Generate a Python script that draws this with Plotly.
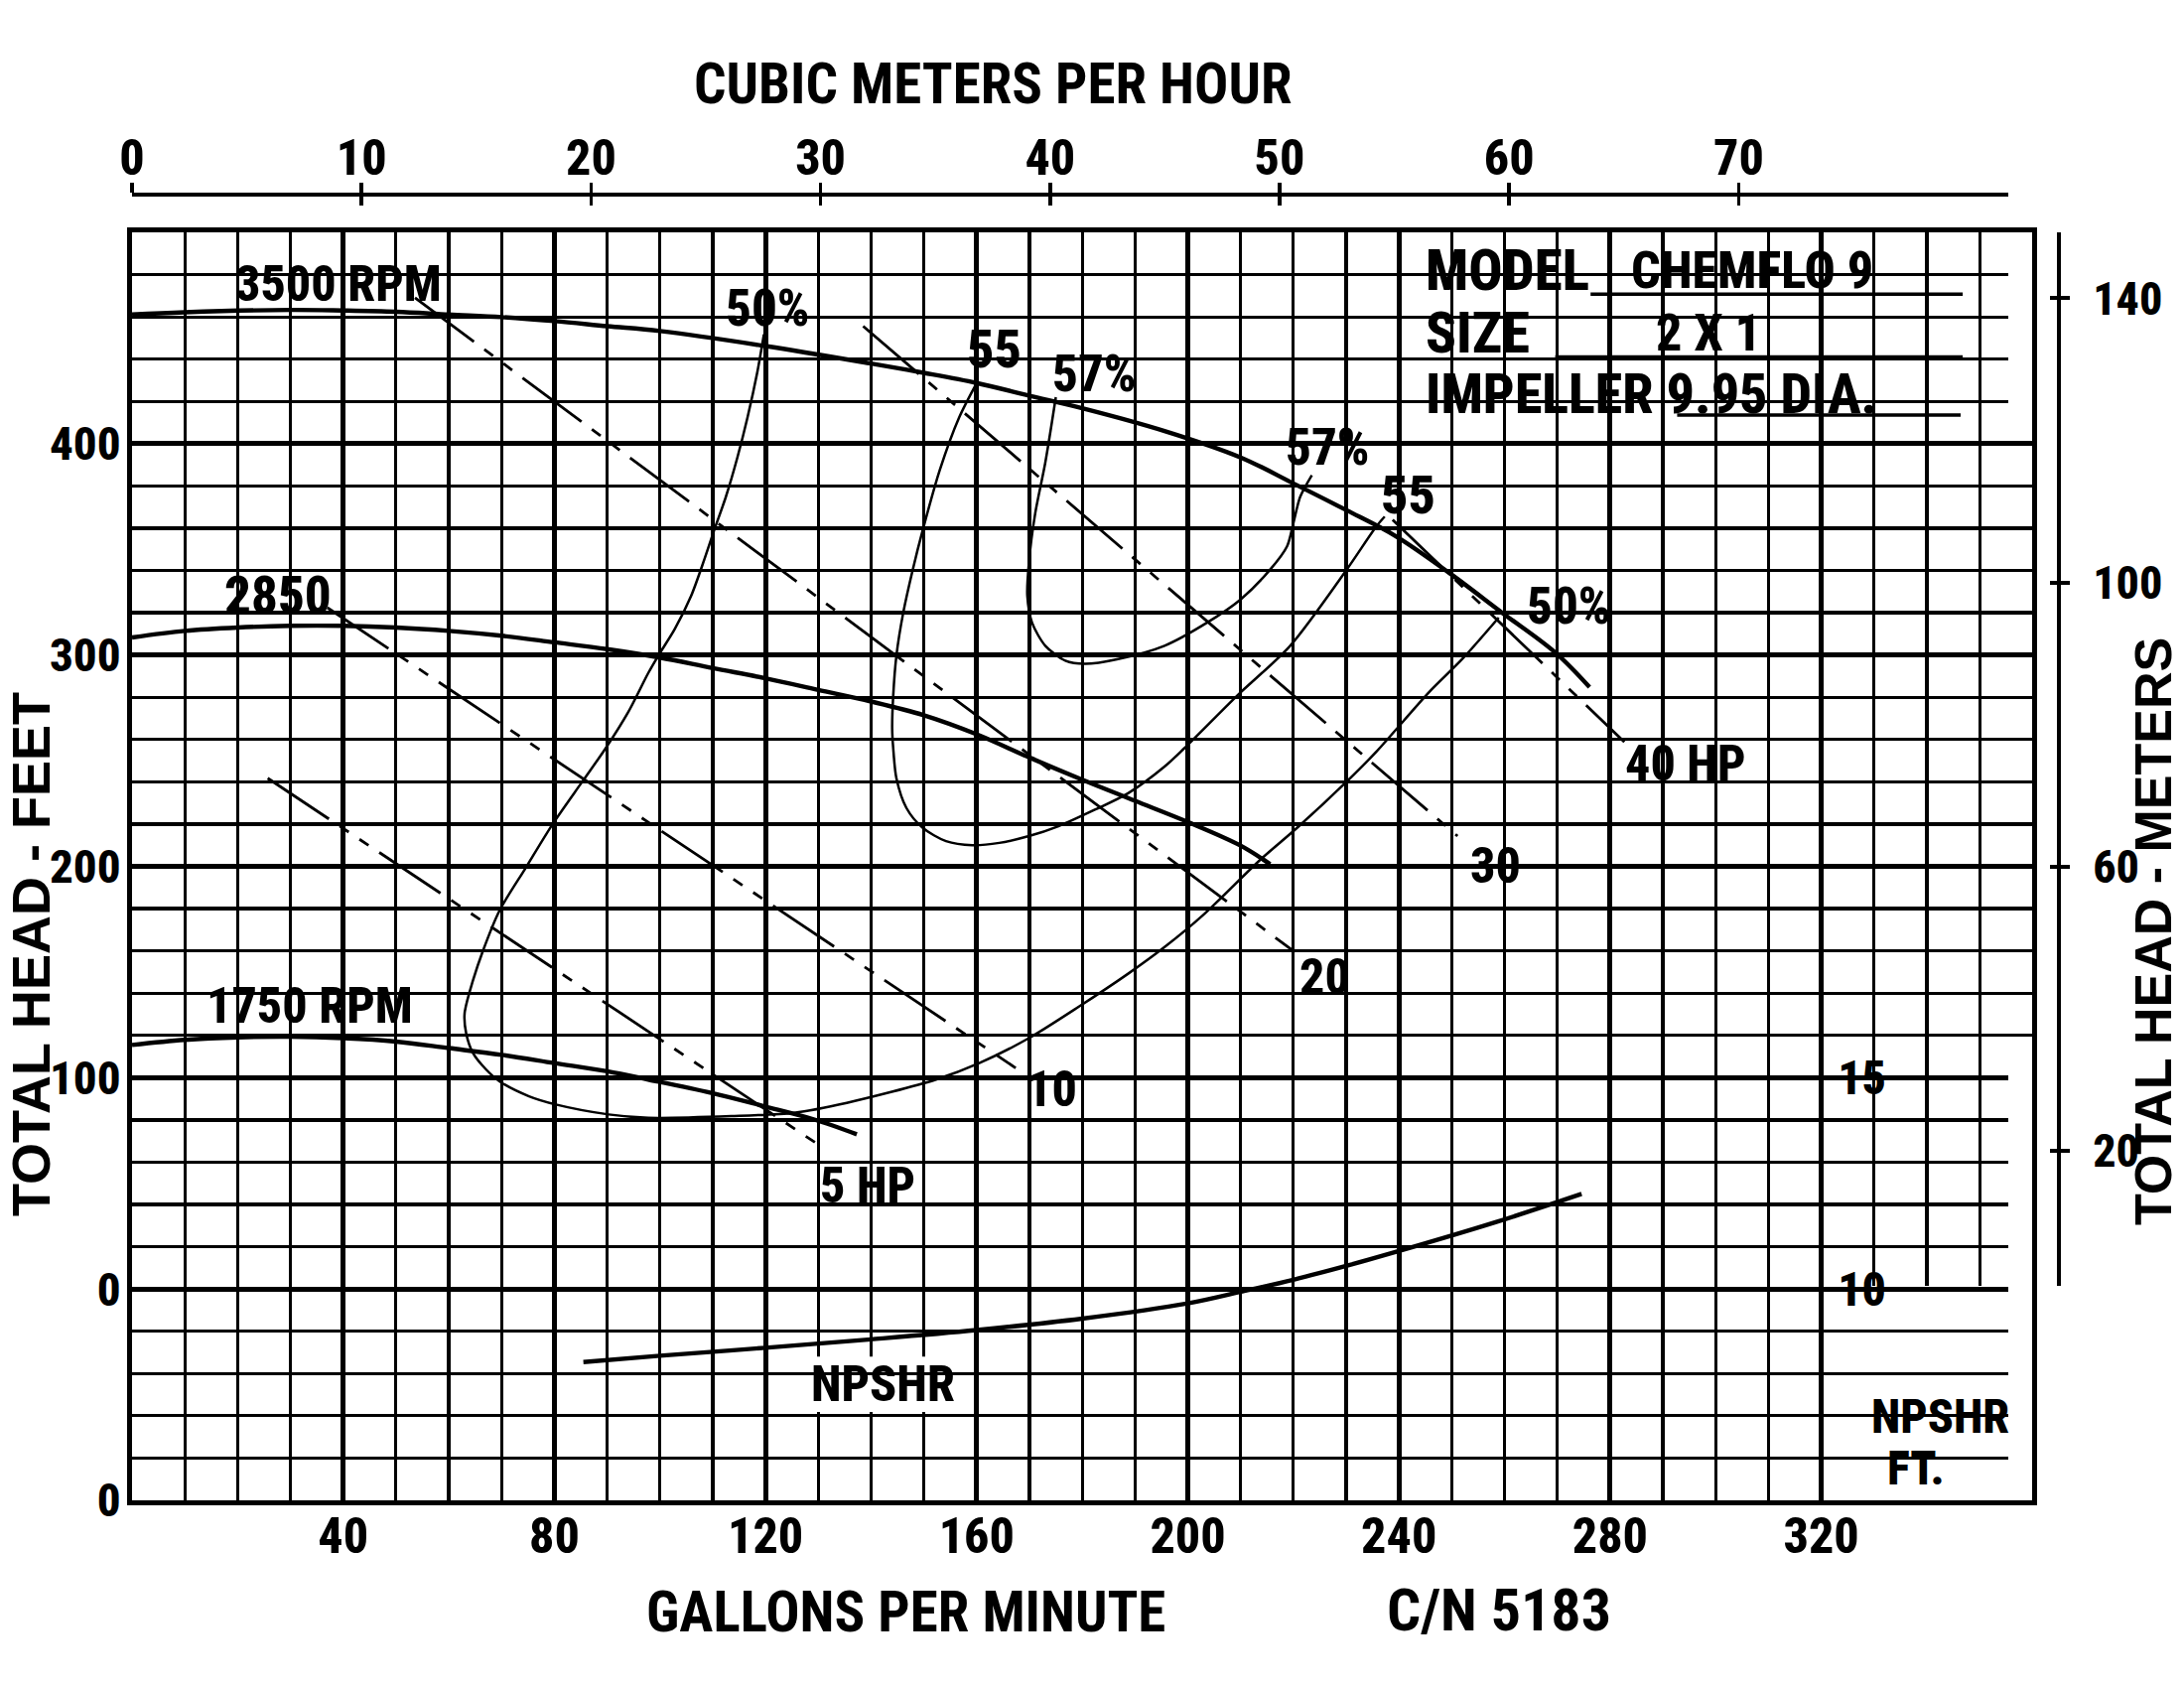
import plotly.graph_objects as go

# ---------------- data ----------------
gpm_ticks = [40, 80, 120, 160, 200, 240, 280, 320]
head_tick_vals = [-100, 0, 100, 200, 300, 400]
head_tick_text = ["0", "0", "100", "200", "300", "400"]
cmh_ticks = [0, 10, 20, 30, 40, 50, 60, 70]
meter_ticks = [20, 60, 100, 140]
npshr_ticks = [10, 15]

# head-capacity curves (GPM, feet)
rpm3500_gpm = [0, 10, 30, 40, 50, 60, 70, 80, 90, 100, 120, 140, 150, 160, 170, 180,
               195.6, 210, 220, 230, 239.5, 249.5, 259.5, 269.6, 276.1]
rpm3500_head = [461.1, 462.2, 463.3, 463.0, 462.4, 461.1, 459.9, 458.0, 455.6, 453.3, 446.2, 437.9,
                433.5, 428.7, 422.7, 416.8, 406.0, 393.5, 381.2, 368.6, 356.1, 338.9, 320.1, 301.2, 284.8]

rpm2850_gpm = [0, 10, 20, 30, 40, 50, 60, 70, 80, 90, 100, 110, 120, 130, 140, 150,
               160, 170, 180, 190, 200, 210, 215.6]
rpm2850_head = [308.3, 311.4, 313.0, 313.8, 313.8, 313.0, 311.4, 309.1, 306.0, 302.8, 298.8, 293.8,
                289.0, 283.5, 278.0, 271.5, 262.5, 251.5, 241.0, 231.0, 221.0, 209.8, 201.0]

rpm1750_gpm = [0, 10, 20, 30, 40, 50, 60, 70, 80, 90, 97.8, 109.7, 119.7, 129.1, 137.3]
rpm1750_head = [115.5, 117.9, 119.1, 119.4, 118.7, 117.1, 114.0, 110.8, 106.9, 103.0, 99.1, 92.8,
                86.5, 80.3, 73.2]

# iso-efficiency curves (GPM, feet)
eff50_gpm = [119.7, 118.5, 116.6, 114.7, 112.5, 110.3, 108.4, 105.9, 102.8, 99.7, 97.8, 94.0, 89.7,
             85.3, 79.6, 74.6, 69.6, 66.5, 64.6, 63.0, 63.3, 64.6, 67.1, 69.6, 75.2, 80.3, 90.3, 97.8,
             113.5, 125.4, 135.4, 152.3, 160.5, 169.9, 179.3, 188.7, 195.6, 203.1, 213.8, 220.7,
             230.1, 235.7, 245.7, 252.0, 258.9]
eff50_head = [451.7, 434.5, 412.5, 393.7, 374.9, 359.2, 345.1, 327.9, 312.2, 299.7, 291.5, 273.0,
              255.8, 240.1, 219.7, 199.4, 179.0, 160.2, 146.1, 130.4, 121.0, 111.6, 103.8, 98.3,
              91.2, 87.3, 82.6, 81.0, 81.8, 83.4, 88.1, 99.1, 106.9, 118.7, 133.5, 149.2, 161.8,
              177.4, 203.3, 218.2, 240.1, 254.2, 282.4, 298.1, 317.7]

eff55_gpm = [159.9, 156.7, 153.0, 149.8, 147.9, 146.1, 144.8, 144.2, 144.0, 144.2, 144.8, 146.7,
             149.8, 154.2, 159.2, 164.3, 169.9, 175.5, 182.4, 188.7, 195.6, 199.3, 209.4, 219.4,
             230.1, 235.7, 237.3]
eff55_head = [428.2, 412.5, 387.4, 359.2, 340.4, 320.1, 299.7, 280.9, 265.0, 255.8, 241.7, 227.6,
              218.2, 211.9, 210.0, 211.1, 214.3, 219.0, 226.8, 234.6, 247.2, 255.8, 280.9, 304.4,
              340.4, 360.8, 365.5]

eff57_gpm = [175.0, 173.0, 171.1, 169.9, 169.6, 170.5, 173.0, 176.8, 180.5, 186.8, 195.6, 203.7,
             210.0, 215.6, 218.8, 220.0, 221.3, 223.5]
eff57_head = [422.0, 391.0, 367.1, 343.6, 327.9, 315.3, 304.4, 297.3, 295.8, 298.1, 304.4, 315.4,
              326.3, 340.4, 351.4, 362.4, 374.9, 385.1]

# horsepower lines: start / end (GPM, feet)
hp_names = ["5 HP", "10", "20", "30", "40 HP"]
hp_gpm = [[25.7, 131.3], [37.0, 167.4], [53.6, 220.3], [138.5, 251.1], [238.8, 282.7]]
hp_head = [[241.7, 66.2], [322.4, 104.6], [469.0, 159.4], [455.6, 214.3], [364.0, 258.9]]
hp_label_gpm = [139.3, 174.3, 226.0, 258.3, 294.3]
hp_label_head = [49.0, 94.4, 147.6, 200.2, 248.8]

# NPSHR curve (GPM, NPSHR feet)
npshr_gpm = [85.5, 100, 120, 140, 160, 180, 200, 210.9, 220, 230.7, 239.5, 258.3, 274.6]
npshr_ft = [8.27, 8.42, 8.61, 8.81, 9.03, 9.30, 9.66, 9.96, 10.22, 10.57, 10.88, 11.58, 12.25]

# curve labels
rpm_labels = ["3500 RPM", "2850", "1750 RPM"]
rpm_label_gpm = [39.2, 27.7, 33.7]
rpm_label_head = [475.6, 328.0, 134.2]

eff_labels = ["50%", "55", "57%", "57%", "55", "50%"]
eff_label_gpm = [120.4, 163.3, 182.4, 226.6, 241.7, 272.3]
eff_label_head = [464.2, 444.7, 432.9, 398.4, 375.7, 323.2]

# ---------------- styling / geometry ----------------
NARROW = ("Liberation Sans Narrow, Noto Sans Condensed, Noto Sans SemiCondensed, Roboto Condensed, "
          "DejaVu Sans Condensed, Liberation Sans, sans-serif")
WIDE = "Liberation Sans, Arial, sans-serif"
WEIGHT = 800
NARROW_FACTOR = 0.82
W, H = 2200, 1700
PL, PR_GRID, PT_GRID, PB = 133, 2047.3, 234, 1511     # grid box in pixels
PAPER_R, PAPER_T = 2074, 196                         # meter axis x, m3/h axis y
TOP_AXIS_END = 2022.5
PX_PER_CMH = 23.12
PX_PER_M = 7.155
M_ZERO_Y = 1302.1
M_LINE_BOTTOM = 1295
GPM_MAX, HEAD_MIN, HEAD_MAX = 360, -100, 500

paper_w = PAPER_R - PL
paper_h = PB - PAPER_T
XD = (PR_GRID - PL) / paper_w
YD = (PB - PT_GRID) / paper_h
XD2 = (TOP_AXIS_END - PL) / paper_w
cmh_max = (TOP_AXIS_END - PL) / PX_PER_CMH
m_dom_lo = (PB - M_LINE_BOTTOM) / paper_h
m_lo = (M_ZERO_Y - M_LINE_BOTTOM) / PX_PER_M
m_hi = (M_ZERO_Y - PT_GRID) / PX_PER_M
npshr_pos = (320 / GPM_MAX) * XD
PXG = (PR_GRID - PL) / GPM_MAX              # px per gpm
PXH = (PB - PT_GRID) / (HEAD_MAX - HEAD_MIN)  # px per foot
THIN, THICK = 3.2, 5.0

fig = go.Figure()


def add_line(x, y, width, dash=None, yaxis="y", shape="spline", smoothing=1.0):
    fig.add_trace(go.Scatter(
        x=x, y=y, mode="lines", yaxis=yaxis, hoverinfo="skip", showlegend=False,
        line=dict(color="black", width=width, dash=dash, shape=shape, smoothing=smoothing)))


add_line(rpm3500_gpm, rpm3500_head, 4.4)
add_line(rpm2850_gpm, rpm2850_head, 4.4)
add_line(rpm1750_gpm, rpm1750_head, 4.4)
add_line(eff50_gpm, eff50_head, 2.5, smoothing=0.8)
add_line(eff55_gpm, eff55_head, 2.5, smoothing=0.8)
add_line(eff57_gpm, eff57_head, 2.5, smoothing=0.8)
PHANTOM = "74px,13px,11px,13px,11px,13px"
for xs, ys in zip(hp_gpm, hp_head):
    add_line(xs, ys, 2.8, dash=PHANTOM, shape="linear")
add_line(npshr_gpm, npshr_ft, 4.4, yaxis="y3")

# dummy traces so the free axes get their subplots
fig.add_trace(go.Scatter(x=[None], y=[None], xaxis="x2", yaxis="y", showlegend=False, hoverinfo="skip"))
fig.add_trace(go.Scatter(x=[None], y=[None], xaxis="x3", yaxis="y", showlegend=False, hoverinfo="skip"))
fig.add_trace(go.Scatter(x=[None], y=[None], xaxis="x", yaxis="y2", showlegend=False, hoverinfo="skip"))
fig.add_trace(go.Scatter(x=[None], y=[None], xaxis="x", yaxis="y4", showlegend=False, hoverinfo="skip"))


def tf(size):
    return dict(family=NARROW, size=size, color="black", weight=WEIGHT)


fig.update_layout(
    width=W, height=H, autosize=False,
    margin=dict(l=PL, r=W - PAPER_R, t=PAPER_T, b=H - PB, pad=0),
    paper_bgcolor="white", plot_bgcolor="rgba(0,0,0,0)",
    showlegend=False,
    xaxis=dict(domain=[0, XD], range=[0, GPM_MAX], tickmode="array", tickvals=gpm_ticks,
               ticktext=[str(v) for v in gpm_ticks], ticks="", tickfont=tf(50),
               ticklabelstandoff=-12,
               showgrid=True, gridcolor="black", gridwidth=THICK, zeroline=False,
               minor=dict(dtick=10, tick0=0, showgrid=True, gridcolor="black", gridwidth=THIN, ticks=""),
               showline=True, linecolor="black", linewidth=5, mirror=True, fixedrange=True),
    yaxis=dict(domain=[0, YD], range=[HEAD_MIN, HEAD_MAX], tickmode="array", tickvals=head_tick_vals,
               ticktext=head_tick_text, ticks="", tickfont=tf(47), ticklabelstandoff=-3,
               showgrid=True, gridcolor="black", gridwidth=THICK, zeroline=False,
               minor=dict(dtick=20, tick0=0, showgrid=True, gridcolor="black", gridwidth=THIN, ticks=""),
               showline=True, linecolor="black", linewidth=5, mirror=True, fixedrange=True),
    xaxis2=dict(anchor="free", position=1, side="top", domain=[0, XD2], range=[0, cmh_max],
                tickmode="array", tickvals=cmh_ticks, ticktext=[str(v) for v in cmh_ticks],
                ticks="outside", ticklen=10, tickwidth=3.5, tickcolor="black", tickfont=tf(50),
                ticklabelstandoff=-12,
                showline=True, linecolor="black", linewidth=4, showgrid=False, zeroline=False),
    xaxis3=dict(anchor="free", position=1, side="top", domain=[0, XD2], range=[0, cmh_max],
                tickmode="array", tickvals=cmh_ticks, ticks="inside", ticklen=10, tickwidth=3.5,
                tickcolor="black", showticklabels=False, showline=False, showgrid=False, zeroline=False),
    yaxis2=dict(anchor="free", position=1, side="right", domain=[m_dom_lo, YD], range=[m_lo, m_hi],
                tickmode="array", tickvals=meter_ticks, ticktext=[str(v) for v in meter_ticks],
                ticks="outside", ticklen=9, tickwidth=4, tickcolor="black", tickfont=tf(46),
                ticklabelstandoff=14,
                showline=True, linecolor="black", linewidth=4, showgrid=False, zeroline=False),
    yaxis4=dict(anchor="free", position=1, side="right", domain=[m_dom_lo, YD], range=[m_lo, m_hi],
                tickmode="array", tickvals=meter_ticks, ticks="inside", ticklen=9, tickwidth=4,
                tickcolor="black", showticklabels=False, showline=False, showgrid=False, zeroline=False),
    yaxis3=dict(overlaying="y", anchor="free", position=npshr_pos, side="right",
                range=[HEAD_MIN / 20 + 10, HEAD_MAX / 20 + 10],
                tickmode="array", tickvals=npshr_ticks, ticktext=[str(v) for v in npshr_ticks],
                ticks="outside", ticklen=10, tickwidth=4, tickcolor="black", tickfont=tf(48),
                ticklabelstandoff=-4,
                showline=False, showgrid=False, zeroline=False),
)

# white masks over the grid (title block and lower-right NPSHR area)
fig.add_shape(type="rect", xref="x", yref="y", x0=240.5, x1=GPM_MAX, y0=401.3, y1=HEAD_MAX,
              fillcolor="white", line=dict(width=0), layer="between")
fig.add_shape(type="rect", xref="x", yref="y", x0=320.5, x1=GPM_MAX, y0=HEAD_MIN, y1=119.2,
              fillcolor="white", line=dict(width=0), layer="between")

# title block underlines
for x0, x1, yv in [(276.3, 346.8, 470.8), (269.6, 346.8, 441.0), (292.7, 346.4, 413.6)]:
    fig.add_shape(type="line", xref="x", yref="y", x0=x0, x1=x1, y0=yv, y1=yv,
                  line=dict(color="black", width=3.5), layer="above")

CHAR_W = {c: 0.556 for c in "0123456789"}
CHAR_W.update({" ": 0.278, "%": 0.889, ".": 0.278, "R": 0.722, "P": 0.667, "M": 0.833,
               "H": 0.722, "N": 0.722, "S": 0.667, "F": 0.611, "T": 0.611})


def text_px(text, size):
    return sum(CHAR_W.get(c, 0.66) for c in text) * size * NARROW_FACTOR


def label(text, x, y, size=52, family=NARROW, xanchor="center", ref="data", angle=0, box=False,
          weight=WEIGHT):
    if box:  # white patch that hides the grid (but not the curves) behind the label
        hw = (text_px(text, size) / 2 + 10) / PXG
        hh = (0.716 * size / 2 + 10) / PXH
        fig.add_shape(type="rect", xref="x", yref="y", x0=x - hw, x1=x + hw, y0=y - hh, y1=y + hh,
                      fillcolor="white", line=dict(width=0), layer="between")
    fig.add_annotation(
        x=x, y=y, xref="x" if ref == "data" else "paper", yref="y" if ref == "data" else "paper",
        text=text, showarrow=False, textangle=angle,
        font=dict(family=family, size=size, color="black", weight=weight),
        borderpad=0, borderwidth=0, xanchor=xanchor, yanchor="middle")


for t, gx, hy in zip(rpm_labels, rpm_label_gpm, rpm_label_head):
    label(t, gx, hy, size=50 if "RPM" in t else 53, box=True)
for t, gx, hy in zip(eff_labels, eff_label_gpm, eff_label_head):
    label(t, gx, hy, size=51 if "%" in t else 54, box=True)
for t, gx, hy in zip(hp_names, hp_label_gpm, hp_label_head):
    label(t, gx, hy, size=50, box=True)

label("NPSHR", 142.2, -45.1, size=50, box=True)
label("NPSHR", 342.5, -60.3, size=48)
label("FT.", 337.9, -84.8, size=48)

# title block text
label("MODEL", 245.0, 481.8, size=57, xanchor="left")
label("CHEMFLO 9", 283.9, 481.8, size=52, xanchor="left")
label("SIZE", 245.0, 452.4, size=57, xanchor="left")
label("2 X 1", 298.7, 452.4, size=52)
label("IMPELLER 9.95 DIA.", 245.0, 423.4, size=56, xanchor="left")


def paper_xy(px, py):
    return (px - PL) / paper_w, (PB - py) / paper_h


for txt, (px, py), fam, sz, ang in [
    ("CUBIC METERS PER HOUR", (1000, 84), NARROW, 57, 0),
    ("GALLONS PER MINUTE", (912, 1623), NARROW, 57, 0),
    ("C/N 5183", (1510, 1621), NARROW, 60, 0),
    ("TOTAL HEAD - FEET", (31, 961), WIDE, 54, -90),
    ("TOTAL HEAD - METERS", (2169, 938), WIDE, 52, -90),
]:
    ax, ay = paper_xy(px, py)
    label(txt, ax, ay, size=sz, family=fam, ref="paper", angle=ang, weight="bold")

# the page body has a default 8px margin; remove it so the figure sits at the window origin
fig.write_html("out.html", config={"displayModeBar": False, "staticPlot": True},
               post_script="document.body.style.margin='0';document.body.style.padding='0';")
